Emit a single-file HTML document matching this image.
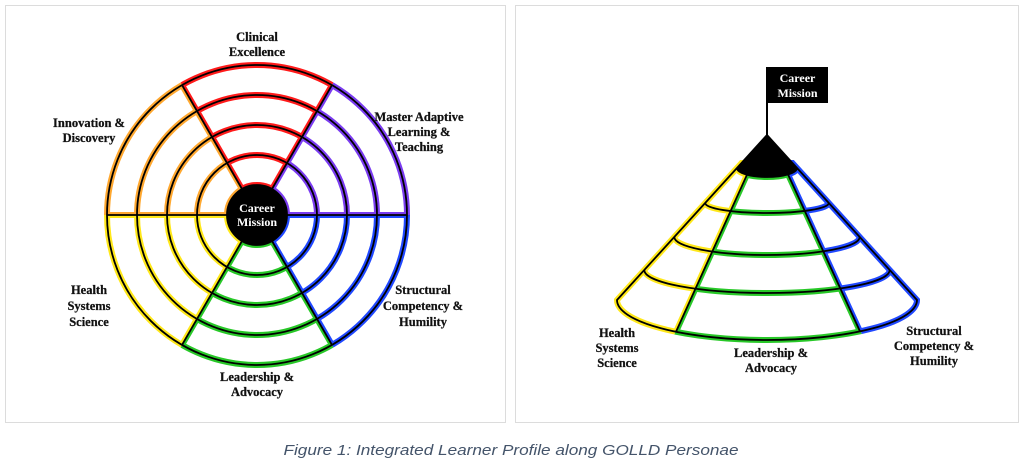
<!DOCTYPE html>
<html><head><meta charset="utf-8"><style>
html,body{margin:0;padding:0;background:#fff;width:1024px;height:466px;overflow:hidden}
svg{display:block}
.lb{font-family:"Liberation Serif",serif;font-weight:bold;font-size:12.5px;fill:#111;text-anchor:middle;stroke:#111;stroke-width:0.25}
.cm{font-family:"Liberation Serif",serif;font-weight:bold;font-size:12px;fill:#fff;text-anchor:middle}
.cap{font-family:"Liberation Sans",sans-serif;font-style:italic;font-size:15px;fill:#44546a;text-anchor:middle}
</style></head><body>
<svg width="1024" height="466" viewBox="0 0 1024 466" xmlns="http://www.w3.org/2000/svg">
<defs>
<clipPath id="cR"><polygon points="257,215 157,41.8 357,41.8"/></clipPath>
<clipPath id="cP"><polygon points="257,215 457,215 357,41.8"/></clipPath>
<clipPath id="cB"><polygon points="257,215 457,215 357,388.2"/></clipPath>
<clipPath id="cG"><polygon points="257,215 357,388.2 157,388.2"/></clipPath>
<clipPath id="cY"><polygon points="257,215 157,388.2 57,215"/></clipPath>
<clipPath id="cO"><polygon points="257,215 57,215 157,41.8"/></clipPath>
<g id="wheel" fill="none">
<circle cx="257" cy="215" r="150"/><circle cx="257" cy="215" r="120"/><circle cx="257" cy="215" r="90"/><circle cx="257" cy="215" r="60"/><circle cx="257" cy="215" r="30"/>
<line x1="287" y1="215" x2="407" y2="215"/><line x1="272" y1="241" x2="332" y2="344.9"/><line x1="242" y1="241" x2="182" y2="344.9"/>
<line x1="227" y1="215" x2="107" y2="215"/><line x1="242" y1="189" x2="182" y2="85.1"/><line x1="272" y1="189" x2="332" y2="85.1"/>
</g>
<clipPath id="kY"><polygon points="590,160 754.8,160 662.6,360 590,360"/></clipPath>
<clipPath id="kG"><polygon points="754.8,160 781,160 874,360 662.6,360"/></clipPath>
<clipPath id="kB"><polygon points="781,160 950,160 950,360 874,360"/></clipPath>
<g id="cone" fill="none">
<path d="M767 135 L617 300 A150 40 0 0 0 917 300 Z"/>
<path d="M737 168 A30 9 0 0 0 797 168"/>
<path d="M705.2 203 A61.8 10 0 0 0 828.8 203"/>
<path d="M674.3 237 A92.7 18 0 0 0 859.7 237"/>
<path d="M644.3 270 A122.7 23 0 0 0 889.7 270"/>
<line x1="747" y1="174.7" x2="676" y2="331.8"/>
<line x1="788" y1="174.4" x2="860" y2="331.4"/>
</g>
</defs>
<rect x="5.5" y="5.5" width="500" height="417" fill="#fff" stroke="#dcdcdc"/>
<rect x="515.5" y="5.5" width="503" height="417" fill="#fff" stroke="#dcdcdc"/>
<g stroke-width="6">
<use href="#wheel" clip-path="url(#cR)" stroke="#ff1a1a"/>
<use href="#wheel" clip-path="url(#cP)" stroke="#7a3cf0"/>
<use href="#wheel" clip-path="url(#cB)" stroke="#2048ff"/>
<use href="#wheel" clip-path="url(#cG)" stroke="#28c828"/>
<use href="#wheel" clip-path="url(#cY)" stroke="#ffe81a"/>
<use href="#wheel" clip-path="url(#cO)" stroke="#ffa830"/>
</g>
<use href="#wheel" stroke="#000" stroke-width="1.8"/>
<circle cx="257" cy="215" r="30" fill="#000"/>
<text class="cm" x="257" y="212">Career</text><text class="cm" x="257" y="226">Mission</text>
<text class="lb" x="257" y="41">Clinical</text><text class="lb" x="257" y="56">Excellence</text>
<text class="lb" x="89" y="127">Innovation &amp;</text><text class="lb" x="89" y="142">Discovery</text>
<text class="lb" x="419" y="121">Master Adaptive</text><text class="lb" x="419" y="136">Learning &amp;</text><text class="lb" x="419" y="151">Teaching</text>
<text class="lb" x="89" y="294">Health</text><text class="lb" x="89" y="310">Systems</text><text class="lb" x="89" y="326">Science</text>
<text class="lb" x="423" y="294">Structural</text><text class="lb" x="423" y="310">Competency &amp;</text><text class="lb" x="423" y="326">Humility</text>
<text class="lb" x="257" y="381">Leadership &amp;</text><text class="lb" x="257" y="396">Advocacy</text>
<path d="M767 135 L617 300 A150 40 0 0 0 917 300 Z" fill="#fff"/>
<g stroke-width="6">
<use href="#cone" clip-path="url(#kY)" stroke="#ffe81a"/>
<use href="#cone" clip-path="url(#kG)" stroke="#28c828"/>
<use href="#cone" clip-path="url(#kB)" stroke="#2048ff"/>
</g>
<use href="#cone" stroke="#000" stroke-width="1.8"/>
<path d="M767 135 L737 168 A30 9 0 0 0 797 168 Z" fill="#000"/>
<line x1="767" y1="67" x2="767" y2="136" stroke="#000" stroke-width="2"/>
<rect x="767" y="67" width="61" height="36" fill="#000"/>
<text class="cm" x="797.5" y="82" font-size="11.5">Career</text><text class="cm" x="797.5" y="97" font-size="11.5">Mission</text>
<text class="lb" x="617" y="337">Health</text><text class="lb" x="617" y="352">Systems</text><text class="lb" x="617" y="367">Science</text>
<text class="lb" x="771" y="357">Leadership &amp;</text><text class="lb" x="771" y="372">Advocacy</text>
<text class="lb" x="934" y="335">Structural</text><text class="lb" x="934" y="350">Competency &amp;</text><text class="lb" x="934" y="365">Humility</text>
<text class="cap" x="511" y="455" textLength="455" lengthAdjust="spacingAndGlyphs">Figure 1: Integrated Learner Profile along GOLLD Personae</text>
</svg>
</body></html>
